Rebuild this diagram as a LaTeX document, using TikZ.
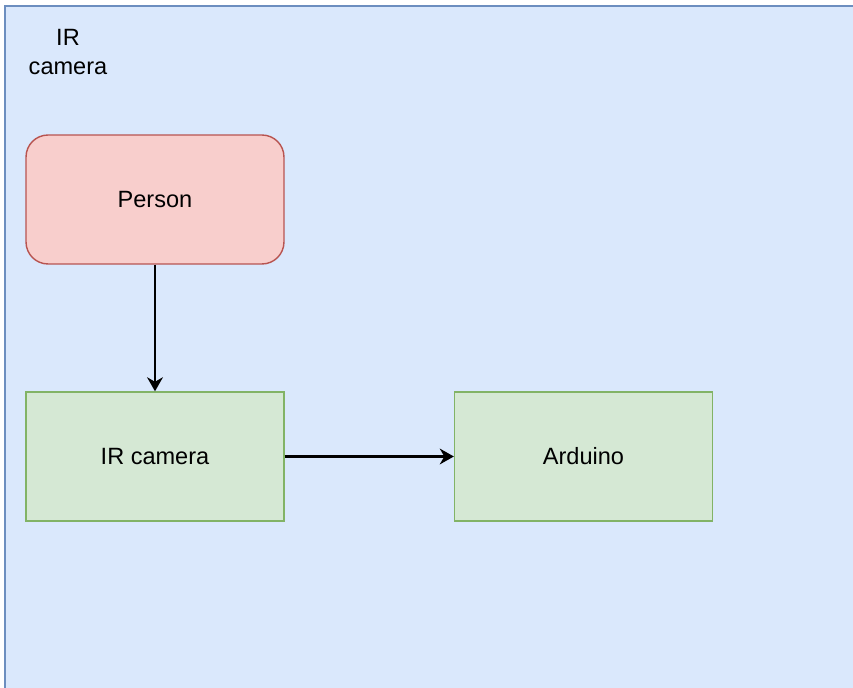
\documentclass[tikz,border=0pt]{standalone}
\usepackage{fontspec}
\setmainfont{Liberation Sans}
\usepackage{tikz}
\usetikzlibrary{positioning, arrows.meta}
\usepackage{xcolor}
\definecolor{areaFill}{RGB}{218, 232, 252}
\definecolor{areaLine}{RGB}{108, 142, 191}
\definecolor{personFill}{RGB}{248, 206, 204}
\definecolor{personLine}{RGB}{184, 84, 80}
\definecolor{deviceFill}{RGB}{213, 232, 212}
\definecolor{deviceLine}{RGB}{130, 179, 102}

\begin{document}
\begin{tikzpicture}[x=0.02cm, y=-0.02cm, >={Stealth[length=8pt, width=9pt]},
    font=\fontsize{13.4}{16.4}\selectfont,
    box/.style={draw, line width=0.8pt, minimum width=5.16cm, minimum height=2.58cm, inner sep=0pt},
    flow/.style={->, line width=1.2pt}]
  \useasboundingbox (0, 0) rectangle (853, 688);
  % camera area
  \draw[fill=areaFill, draw=areaLine, line width=0.8pt] (5, 6) rectangle (870, 710);
  \node[align=center] (areaLabel) at (68, 52) {IR\\camera};

  % boxes
  \node[box, fill=personFill, draw=personLine, rounded corners=0.44cm] (person) at (155, 199.5) {Person};
  \node[box, fill=deviceFill, draw=deviceLine] (camera) at (155, 456.5) {IR camera};
  \node[box, fill=deviceFill, draw=deviceLine] (arduino) at (583.5, 456.5) {Arduino};

  % arrows
  \draw[flow] (person) -- (camera);
  \draw[flow] (camera) -- (arduino);
\end{tikzpicture}
\end{document}
